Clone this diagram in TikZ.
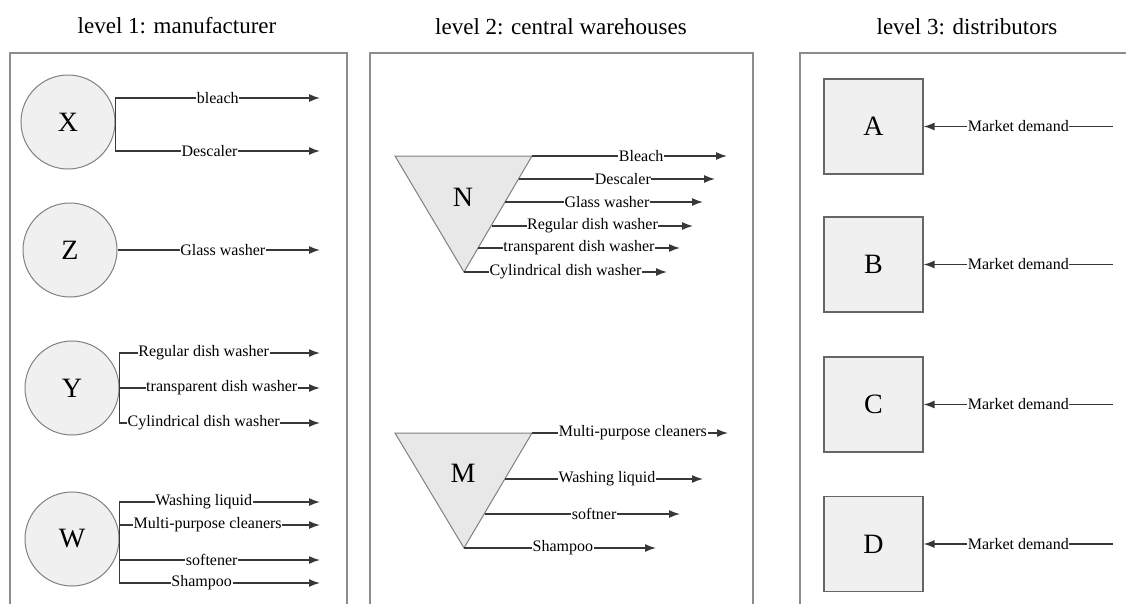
\documentclass[tikz,border=0pt]{standalone}
\usepackage{fontspec}
\setmainfont{LiberationSerif}[Extension=.ttf,UprightFont=*-Regular,BoldFont=*-Bold,ItalicFont=*-Italic]
\usetikzlibrary{arrows.meta}
\begin{document}
\begin{tikzpicture}[x=1pt,y=-1pt,
  panel/.style={draw=black!45,line width=1.5pt},
  title/.style={anchor=base,font=\fontsize{23}{26}\selectfont},
  plant/.style={circle,draw=black!50,fill=black!6,line width=1pt,minimum size=94pt,inner sep=0pt,font=\fontsize{28}{30}\selectfont},
  depot/.style={draw=black!60,fill=black!6,line width=1.2pt,minimum width=99pt,minimum height=95pt,inner sep=0pt,font=\fontsize{28}{30}\selectfont},
  funnel/.style={draw=black!50,fill=black!9,line width=1pt},
  letter/.style={font=\fontsize{28}{30}\selectfont},
  lbl/.style={fill=white,inner sep=0.6pt,font=\fontsize{16}{18}\selectfont},
  flow/.style={draw=black!78,line width=1.4pt,-{Latex[length=11pt,width=8pt]}}]
\useasboundingbox (0,0) rectangle (1126,603);
\fill[white] (0,0) rectangle (1126,603);

      \draw [panel] (10,53) rectangle (347,640);
      \draw [panel] (370,53) rectangle (753,640);
      \draw [panel] (800,53) rectangle (1160,640);
      \node [title] (t1) at (177,33) {level 1: manufacturer};
      \node [title] (t2) at (561,34) {level 2: central warehouses};
      \node [title] (t3) at (967,34) {level 3: distributors};

      \node [plant] (X) at (68,122) {X};
      \node [plant] (Z) at (70,250) {Z};
      \node [plant] (Y) at (72,388) {Y};
      \node [plant] (W) at (72,539) {W};

      \coordinate (Xe1) at (320,98);
      \coordinate (Xe2) at (320,151);
      \coordinate (Ze) at (320,250);
      \coordinate (Ye1) at (320,353);
      \coordinate (Ye2) at (320,388);
      \coordinate (Ye3) at (320,423);
      \coordinate (We1) at (320,502);
      \coordinate (We2) at (320,525);
      \coordinate (We3) at (320,560);
      \coordinate (We4) at (320,583);

      \draw [flow] (X.east) |- node [lbl,pos=.75] {bleach} (Xe1);
      \draw [flow] (X.east) |- node [lbl,pos=.73] {Descaler} (Xe2);
      \draw [flow] (Z) -- node [lbl,pos=.52] {Glass washer} (Ze);
      \draw [flow] (Y.east) |- node [lbl,pos=.71] {Regular dish washer} (Ye1);
      \draw [flow] (Y.east) -- node [lbl,pos=.51] {transparent dish washer} (Ye2);
      \draw [flow] (Y.east) |- node [lbl,pos=.71] {Cylindrical dish washer} (Ye3);
      \draw [flow] (W.east) |- node [lbl,pos=.71] {Washing liquid} (We1);
      \draw [flow] (W.east) |- node [lbl,pos=.72] {Multi-purpose cleaners} (We2);
      \draw [flow] (W.east) |- node [lbl,pos=.73] {softener} (We3);
      \draw [flow] (W.east) |- node [lbl,pos=.705] {Shampoo} (We4);

      \coordinate (Ntl) at (395,156);
      \coordinate (Ntr) at (532,156);
      \coordinate (Nb) at (464,272);
      \filldraw [funnel] (Ntl) -- (Ntr) -- (Nb) -- cycle;
      \node [letter] (N) at (463,197) {N};
      \coordinate (Ns2) at (519,179);
      \coordinate (Ns3) at (505,202);
      \coordinate (Ns4) at (492,226);
      \coordinate (Ns5) at (478,248);
      \coordinate (Ne1) at (727,156);
      \coordinate (Ne2) at (715,179);
      \coordinate (Ne3) at (703,202);
      \coordinate (Ne4) at (693,226);
      \coordinate (Ne5) at (680,248);
      \coordinate (Ne6) at (667,272);

      \draw [flow] (Ntr) -- node [lbl,pos=.56] {Bleach\ } (Ne1);
      \draw [flow] (Ns2) -- node [lbl,pos=.53] {Descaler} (Ne2);
      \draw [flow] (Ns3) -- node [lbl,pos=.515] {Glass washer} (Ne3);
      \draw [flow] (Ns4) -- node [lbl,pos=.5] {Regular dish washer} (Ne4);
      \draw [flow] (Ns5) -- node [lbl,pos=.5] {transparent dish washer} (Ne5);
      \draw [flow] (Nb) -- node [lbl,pos=.5] {Cylindrical dish washer} (Ne6);

      \coordinate (Mtl) at (395,433);
      \coordinate (Mtr) at (532,433);
      \coordinate (Mb) at (464,548);
      \filldraw [funnel] (Mtl) -- (Mtr) -- (Mb) -- cycle;
      \node [letter] (M) at (463,473) {M};
      \coordinate (Ms2) at (505,479);
      \coordinate (Ms3) at (485,514);
      \coordinate (Me1) at (728,433);
      \coordinate (Me2) at (703,479);
      \coordinate (Me3) at (680,514);
      \coordinate (Me4) at (656,548);

      \draw [flow] (Mtr) -- node [lbl,pos=.515] {Multi-purpose cleaners} (Me1);
      \draw [flow] (Ms2) -- node [lbl,pos=.515] {Washing liquid} (Me2);
      \draw [flow] (Ms3) -- node [lbl,pos=.56] {softner} (Me3);
      \draw [flow] (Mb) -- node [lbl,pos=.515] {Shampoo} (Me4);

      \node [depot] (A) at (873.5,126.5) {A};
      \node [depot] (B) at (873.5,264.5) {B};
      \node [depot] (C) at (873.5,404.5) {C};
      \node [depot] (D) at (873.5,544) {D};
      \coordinate (dA) at (1113,126.5);
      \coordinate (dB) at (1113,264.5);
      \coordinate (dC) at (1113,404.5);
      \coordinate (dD) at (1113,544);

      \draw [flow] (dA) -- node [lbl] {Market demand} (A.east);
      \draw [flow] (dB) -- node [lbl] {Market demand} (B.east);
      \draw [flow] (dC) -- node [lbl] {Market demand} (C.east);
      \draw [flow] (dD) -- node [lbl] {Market demand} (D.east);
    \end{tikzpicture}
\end{document}
